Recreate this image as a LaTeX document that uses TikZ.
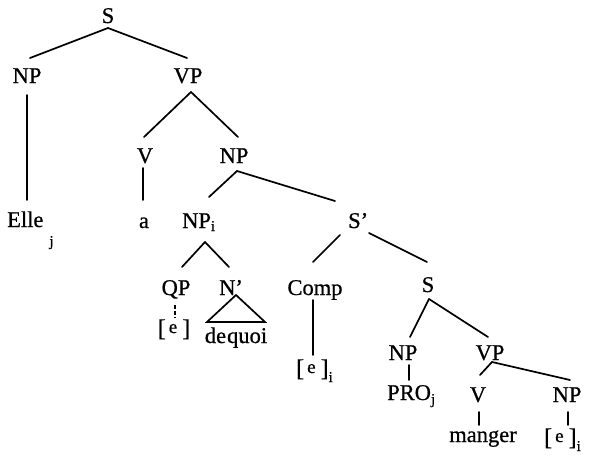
\documentclass[tikz,border=0pt]{standalone}
\usepackage{fontspec}
\setmainfont[FakeBold=0.7]{Liberation Serif}
\usetikzlibrary{calc}
\newcommand\mysub[2]{\raisebox{-#1}{\fontsize{15}{15}\selectfont #2}}
\newcommand\emptycat{{\fontsize{24}{24}\selectfont[}\kern3pt\raisebox{3pt}{\fontsize{19}{19}\selectfont e}\kern5pt{\fontsize{24}{24}\selectfont]}}
\begin{document}
\begin{tikzpicture}[x=1pt,y=-1pt,
  lab/.style={anchor=base,inner sep=0pt,font=\fontsize{22.5}{26}\selectfont},
  labw/.style={lab,anchor=base west},
  edge/.style={line width=1.7pt,line cap=round}]
\useasboundingbox (0,0) rectangle (594,464);
% labels
\node[lab]  (S0)  at (108,23) {S};
\node[lab]  (NP1) at (27,83) {NP};
\node[lab]  (VP1) at (188,83) {VP};
\node[labw] (Elle) at (7,227) {Elle\hspace{6pt}\mysub{19pt}{j}};
\node[lab]  (V1)  at (145,163) {V};
\node[lab]  (NP2) at (234,163) {NP};
\node[lab]  (a)   at (144,228) {a};
\node[labw] (NPi) at (182,228) {NP\mysub{3pt}{i}};
\node[labw] (Sp)  at (348,228) {S'};
\node[lab]  (QP)  at (176,295) {QP};
\node[labw] (Nbar) at (219,295) {N'};
\node[lab]  (e1)  at (174,336) {\emptycat};
\node[lab]  (dq)  at (236,343) {de\kern1pt quoi};
\node[lab]  (Comp) at (315,295) {Comp};
\node[labw] (e2)  at (296,376) {\emptycat\mysub{6pt}{i}};
\node[lab]  (S2)  at (428,292) {S};
\node[lab]  (NP3) at (403,360) {NP};
\node[lab]  (VP2) at (490,360) {VP};
\node[labw] (PRO) at (387,400) {PRO\mysub{4pt}{j}};
\node[lab]  (V2)  at (478,402) {V};
\node[lab]  (NP4) at (567,402) {NP};
\node[lab]  (mg)  at (483,442) {manger};
\node[labw] (e3)  at (544,445) {\emptycat\mysub{6pt}{i}};
% connectors
\draw[edge] ($(S0.base)+(0,5)$) -- ($(NP1.base)+(3,-25)$);
\draw[edge] ($(S0.base)+(0,5)$) -- ($(VP1.base)+(-1,-25)$);
\draw[edge] ($(NP1.base)+(0,12)$) -- ($(Elle.base west)+(20,-27)$);
\draw[edge] ($(VP1.base)+(3,9)$) -- ($(V1.base)+(-1,-26)$);
\draw[edge] ($(VP1.base)+(3,9)$) -- ($(NP2.base)+(4,-26)$);
\draw[edge] ($(V1.base)+(-2,5)$) -- ($(a.base)+(-1,-28)$);
\draw[edge] ($(NP2.base)+(3,8)$) -- ($(NPi.base west)+(27,-31)$);
\draw[edge] ($(NP2.base)+(3,8)$) -- ($(Sp.base west)+(-13,-27)$);
\draw[edge] ($(NPi.base west)+(23,14)$) -- ($(QP.base)+(6,-28)$);
\draw[edge] ($(NPi.base west)+(23,14)$) -- ($(Nbar.base west)+(10,-28)$);
\draw[edge,dash pattern=on 4pt off 2pt,line cap=butt] ($(QP.base)+(-1,10)$) -- ($(e1.base)+(1,-18)$);
\draw[edge,line join=miter] ($(Nbar.base west)+(17,0)$) -- ($(dq.base)+(-29,-21)$) -- ($(dq.base)+(29,-21)$) -- cycle;
\draw[edge] ($(Sp.base west)+(-8,7)$) -- ($(Comp.base)+(-2,-33)$);
\draw[edge] ($(Sp.base west)+(21,5)$) -- ($(S2.base)+(-1,-30)$);
\draw[edge] ($(Comp.base)+(-2,5)$) -- ($(e2.base west)+(17,-21)$);
\draw[edge] ($(S2.base)+(1,7)$) -- ($(NP3.base)+(7,-23)$);
\draw[edge] ($(S2.base)+(1,7)$) -- ($(VP2.base)+(-2,-23)$);
\draw[edge] ($(NP3.base)+(6,5)$) -- ($(PRO.base west)+(22,-20)$);
\draw[edge] ($(VP2.base)+(2,2)$) -- ($(V2.base)+(2,-27)$);
\draw[edge] ($(VP2.base)+(2,2)$) -- ($(NP4.base)+(3,-22)$);
\draw[edge] ($(V2.base)+(1,10)$) -- ($(mg.base)+(-4,-17)$);
\draw[edge] ($(NP4.base)+(1,10)$) -- ($(e3.base west)+(24,-20)$);
\end{tikzpicture}
\end{document}
